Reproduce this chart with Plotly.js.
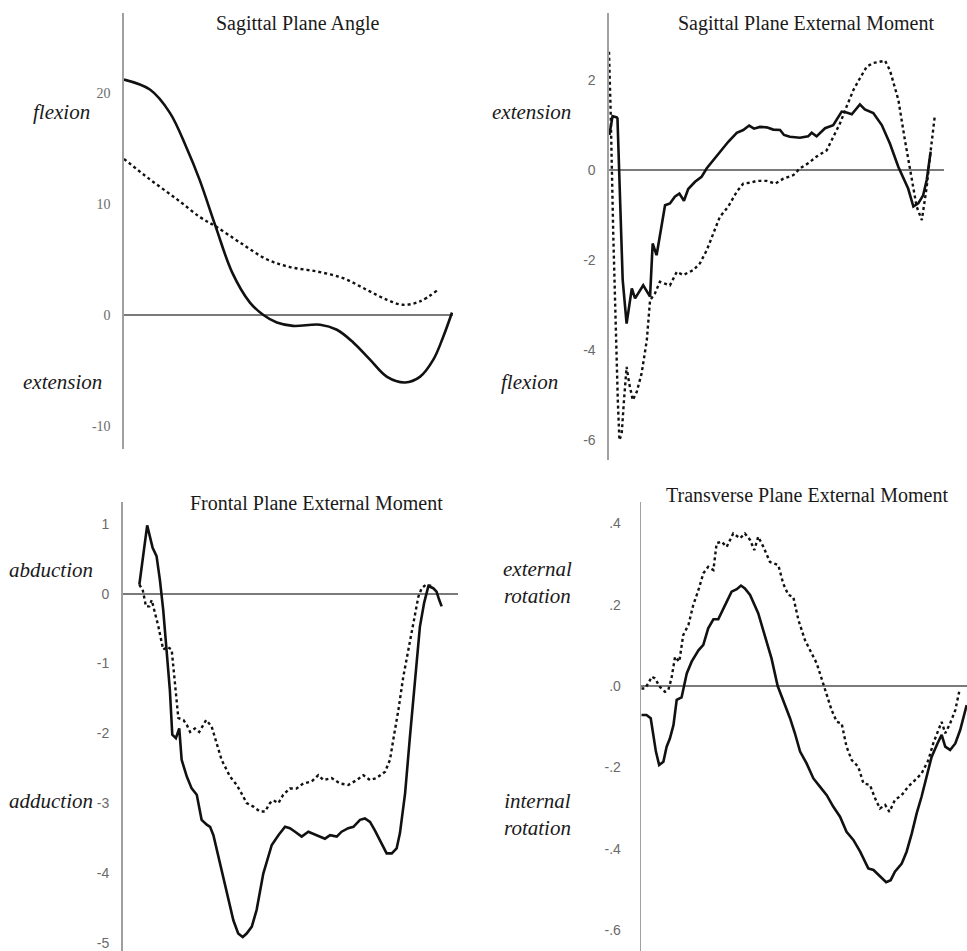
<!DOCTYPE html>
<html>
<head>
<meta charset="utf-8">
<script src="https://cdn.plot.ly/plotly-3.0.1.min.js"></script>
<style>html,body{margin:0;padding:0;background:#fff}#chart{width:967px;height:951px}</style>
</head>
<body>
<div id="chart"></div>
<script>
// ---------- Sagittal Plane Angle ----------
const angleSolidT = [0, 7.9, 14, 19, 23, 28, 33, 38.4, 42.4, 46.6, 51.5, 59.8, 64.9, 69.9, 75, 80.2, 85.7, 90.2, 94.3, 97.3, 100];
const angleSolidV = [21.2, 20.3, 18.2, 15.1, 12.2, 7.9, 3.8, 1.1, 0, -0.7, -1.0, -0.9, -1.35, -2.5, -4.05, -5.6, -6.1, -5.6, -4.05, -2.0, 0.2];
const angleDotT = [0, 7.9, 16.2, 23.2, 28.3, 35.4, 43.5, 50.6, 58.8, 66.8, 74, 80.2, 85, 90.2, 95.7];
const angleDotV = [14.05, 12.2, 10.4, 8.8, 7.9, 6.5, 5.0, 4.3, 3.9, 3.3, 2.25, 1.35, 0.9, 1.2, 2.25];

// ---------- Sagittal Plane External Moment ----------
const sagMomSolidT = [0.1, 1.1, 2.4, 2.6, 4.2, 5.4, 7.0, 8.0, 10.5, 12.6, 13.4, 14.6, 17.2, 18.7, 20.2, 21.6, 23, 24.3, 26.4, 28.4, 30, 32, 34.6, 36.6, 39.2, 41.2, 43, 44.5, 46.3, 48.4, 50.4, 52.5, 53.7, 55.5, 58.6, 61.1, 62.2, 63.7, 66.3, 68.8, 71.4, 72.9, 74.5, 77, 78.5, 81.1, 83.7, 86.2, 88.8, 90.8, 91.8, 93.4, 94.9, 96.4, 97.5, 98.7];
const sagMomSolidV = [0.78, 1.2, 1.17, 1.15, -2.44, -3.41, -2.63, -2.85, -2.56, -2.81, -1.63, -1.89, -0.78, -0.74, -0.59, -0.52, -0.68, -0.42, -0.26, -0.15, 0.04, 0.22, 0.44, 0.63, 0.83, 0.89, 0.99, 0.92, 0.96, 0.95, 0.90, 0.89, 0.78, 0.74, 0.72, 0.75, 0.83, 0.75, 0.93, 1.0, 1.3, 1.28, 1.24, 1.46, 1.35, 1.27, 1.0, 0.59, 0.07, -0.26, -0.41, -0.81, -0.74, -0.56, -0.22, 0.41];
const sagMomDotT = [0, 0.5, 1.3, 2.1, 2.7, 3.2, 3.9, 4.6, 5.4, 6.2, 7.3, 8.5, 10, 11.6, 12.6, 14.1, 15.6, 18.7, 20.8, 22.8, 25.9, 27.9, 30, 32, 34, 36.6, 39.2, 41.2, 43.3, 45.3, 48.4, 51, 53.5, 56.6, 58.6, 61.1, 63.7, 66.8, 68.8, 70.9, 72.9, 75, 77, 79.1, 81.1, 83.1, 84.7, 86.2, 88.8, 90.8, 92.9, 94.4, 96, 97.5, 98.5, 100];
const sagMomDotV = [2.63, 1.33, -1.41, -3.63, -5.11, -6.0, -5.85, -5.11, -4.37, -4.74, -5.11, -4.93, -4.52, -3.78, -2.89, -2.74, -2.48, -2.56, -2.26, -2.33, -2.22, -2.07, -1.78, -1.41, -1.04, -0.81, -0.48, -0.30, -0.28, -0.24, -0.24, -0.30, -0.19, -0.11, 0.04, 0.15, 0.30, 0.44, 0.74, 1.04, 1.41, 1.78, 2.04, 2.30, 2.38, 2.41, 2.43, 2.22, 1.56, 0.67, -0.22, -0.81, -1.11, -0.37, 0.30, 1.22];

// ---------- Frontal Plane External Moment ----------
const frontSolidT = [0, 1.3, 2.6, 3.5, 4.4, 5.7, 6.8, 7.9, 9.0, 10.1, 10.9, 12.1, 13.2, 14.0, 15.7, 17.3, 19.0, 20.6, 22.3, 23.4, 24.5, 26.7, 28.9, 31.1, 32.7, 34.2, 35.5, 37.2, 38.8, 41.0, 43.8, 46.0, 48.2, 49.8, 51.5, 53.7, 55.9, 58.7, 61.4, 63.1, 65.3, 66.9, 69.1, 70.8, 73.0, 74.6, 76.3, 77.9, 80.2, 81.8, 83.5, 85.1, 86.2, 87.9, 89.5, 91.2, 92.8, 94.2, 95.6, 97.2, 98.3, 99.2, 100];
const frontSolidV = [0.13, 0.54, 0.98, 0.82, 0.66, 0.54, 0.20, -0.23, -0.76, -1.38, -2.02, -2.07, -1.93, -2.38, -2.62, -2.79, -2.88, -3.24, -3.31, -3.34, -3.46, -3.86, -4.29, -4.68, -4.87, -4.92, -4.87, -4.77, -4.53, -4.01, -3.60, -3.46, -3.34, -3.36, -3.41, -3.48, -3.41, -3.46, -3.51, -3.46, -3.48, -3.41, -3.36, -3.34, -3.24, -3.22, -3.27, -3.39, -3.58, -3.72, -3.72, -3.65, -3.43, -2.86, -2.05, -1.19, -0.47, -0.13, 0.11, 0.08, 0.03, -0.09, -0.18];
const frontDotT = [0, 1.1, 2.2, 3.3, 4.1, 4.9, 6.3, 7.9, 9.3, 10.7, 11.8, 12.9, 14.6, 15.7, 16.8, 18.4, 19.8, 22.1, 23.9, 25.6, 27.2, 30.0, 32.2, 33.8, 35.5, 37.7, 39.9, 41.6, 43.2, 44.3, 46.0, 47.6, 49.8, 52.0, 54.2, 57.0, 59.2, 60.9, 63.6, 66.4, 69.1, 71.9, 74.1, 76.3, 78.5, 81.3, 82.9, 84.0, 85.7, 87.3, 89.0, 90.6, 92.3, 93.4, 94.8, 96.7];
const frontDotV = [0.13, 0.06, -0.18, -0.18, -0.09, -0.23, -0.47, -0.80, -0.76, -0.80, -1.33, -1.78, -1.81, -1.88, -1.98, -1.93, -1.98, -1.81, -1.90, -2.14, -2.38, -2.62, -2.74, -2.86, -3.00, -3.05, -3.12, -3.12, -3.00, -2.96, -3.00, -2.88, -2.79, -2.79, -2.72, -2.69, -2.60, -2.67, -2.64, -2.72, -2.74, -2.67, -2.60, -2.67, -2.64, -2.55, -2.38, -2.09, -1.66, -1.19, -0.80, -0.42, -0.04, 0.08, 0.13, 0.11];

// ---------- Transverse Plane External Moment ----------
const transSolidT = [0, 1.6, 2.9, 3.7, 4.5, 5.5, 6.8, 7.8, 8.8, 9.9, 10.9, 12.4, 14.0, 15.5, 17.6, 19.1, 20.6, 22.2, 23.7, 25.8, 27.8, 29.4, 30.7, 31.9, 33.5, 36.0, 38.1, 40.1, 42.0, 43.7, 45.8, 47.3, 48.9, 50.9, 53.0, 55.0, 57.1, 59.1, 61.2, 63.2, 65.3, 67.4, 69.9, 71.5, 73.5, 75.4, 76.8, 78.1, 80.2, 81.7, 83.3, 84.8, 86.3, 87.9, 89.4, 91.2, 92.5, 93.6, 95.1, 96.7, 98.2, 100.2];
const transSolidV = [-0.071, -0.071, -0.079, -0.116, -0.161, -0.194, -0.186, -0.149, -0.129, -0.096, -0.034, -0.028, 0.031, 0.060, 0.088, 0.101, 0.142, 0.164, 0.164, 0.199, 0.232, 0.238, 0.247, 0.240, 0.224, 0.179, 0.121, 0.068, 0.0, -0.034, -0.079, -0.116, -0.161, -0.190, -0.227, -0.247, -0.268, -0.296, -0.321, -0.358, -0.378, -0.407, -0.448, -0.452, -0.468, -0.482, -0.477, -0.456, -0.436, -0.407, -0.362, -0.313, -0.272, -0.223, -0.174, -0.141, -0.120, -0.149, -0.157, -0.141, -0.108, -0.047];
const transDotT = [0, 1.1, 2.2, 3.2, 4.2, 5.7, 7.3, 8.3, 9.3, 10.4, 11.7, 12.9, 14.5, 16.0, 17.6, 19.1, 20.6, 22.2, 23.2, 24.7, 26.3, 28.3, 30.4, 31.9, 33.5, 34.8, 36.0, 37.6, 39.6, 42.2, 43.7, 45.3, 46.8, 48.4, 50.4, 52.5, 54.0, 55.5, 57.1, 58.6, 60.2, 61.7, 63.2, 64.8, 66.8, 68.4, 70.4, 72.0, 73.5, 75.1, 76.4, 78.1, 80.2, 82.2, 84.3, 86.3, 88.4, 89.9, 91.5, 92.5, 93.6, 95.1, 96.7, 98.0];
const transDotV = [-0.006, -0.006, 0.007, 0.023, 0.019, -0.002, -0.014, -0.010, 0.019, 0.072, 0.060, 0.125, 0.150, 0.199, 0.236, 0.277, 0.293, 0.285, 0.351, 0.355, 0.342, 0.375, 0.363, 0.375, 0.359, 0.334, 0.367, 0.342, 0.305, 0.297, 0.252, 0.224, 0.219, 0.162, 0.113, 0.080, 0.056, 0.019, -0.022, -0.059, -0.088, -0.092, -0.149, -0.182, -0.198, -0.239, -0.243, -0.276, -0.301, -0.292, -0.309, -0.280, -0.268, -0.247, -0.231, -0.215, -0.182, -0.141, -0.108, -0.088, -0.116, -0.092, -0.059, -0.010];

// Tick values and labels
const angleTickVals = [20, 10, 0, -10];
const angleTickText = ['20', '10', '0', '-10'];
const sagMomTickVals = [2, 0, -2, -4, -6];
const sagMomTickText = ['2', '0', '-2', '-4', '-6'];
const frontTickVals = [1, 0, -1, -2, -3, -4, -5];
const frontTickText = ['1', '0', '-1', '-2', '-3', '-4', '-5'];
const transTickVals = [0.4, 0.2, 0, -0.2, -0.4, -0.6];
const transTickText = ['.4', '.2', '.0', '-.2', '-.4', '-.6'];

// Titles and side labels
const panelTitles = ['Sagittal Plane Angle', 'Sagittal Plane External Moment', 'Frontal Plane External Moment', 'Transverse Plane External Moment'];
const sideLabels = [['flexion', 'extension'], ['extension', 'flexion'], ['abduction', 'adduction'], ['external<br>rotation', 'internal<br>rotation']];

const W = 967, H = 951;
const serif = 'Liberation Serif, Times New Roman, serif';
const sans = 'Liberation Sans, Arial, sans-serif';

function solid(x, y, xa, ya, spline) {
  return {x: x, y: y, xaxis: xa, yaxis: ya, type: 'scatter', mode: 'lines',
    line: {color: '#111', width: 2.6, shape: spline ? 'spline' : 'linear'}, hoverinfo: 'skip', showlegend: false};
}
function dotted(x, y, xa, ya, spline) {
  return {x: x, y: y, xaxis: xa, yaxis: ya, type: 'scatter', mode: 'lines',
    line: {color: '#111', width: 2.4, dash: 'dot', shape: spline ? 'spline' : 'linear'}, hoverinfo: 'skip', showlegend: false};
}

const data = [
  solid(angleSolidT, angleSolidV, 'x', 'y', true),
  dotted(angleDotT, angleDotV, 'x', 'y', true),
  solid(sagMomSolidT, sagMomSolidV, 'x2', 'y2'),
  dotted(sagMomDotT, sagMomDotV, 'x2', 'y2'),
  solid(frontSolidT, frontSolidV, 'x3', 'y3'),
  dotted(frontDotT, frontDotV, 'x3', 'y3'),
  solid(transSolidT, transSolidV, 'x4', 'y4'),
  dotted(transDotT, transDotV, 'x4', 'y4')
];

function xax(l, r, range) {
  return {domain: [l / W, r / W], range: range, showgrid: false, zeroline: false, showline: false,
    showticklabels: false, ticks: '', fixedrange: true};
}
function yax(top, bottom, range, anchor, tickvals, ticktext, font, standoff) {
  return {domain: [1 - bottom / H, 1 - top / H], range: range, anchor: anchor, showgrid: false,
    zeroline: true, zerolinecolor: '#7a7a7a', zerolinewidth: 1.6,
    showline: true, linecolor: '#a0a0a0', linewidth: 1.6, ticks: '',
    tickmode: 'array', tickvals: tickvals, ticktext: ticktext,
    tickfont: {family: font, size: 14, color: '#6a6a6a'},
    ticklabelstandoff: standoff, fixedrange: true};
}

const layout = {
  width: W, height: H, margin: {l: 0, r: 0, t: 0, b: 0}, paper_bgcolor: '#fff', plot_bgcolor: 'rgba(0,0,0,0)',
  showlegend: false,
  xaxis: xax(124, 453, [0, 100.3]),
  yaxis: yax(13, 449, [-12.1, 27.2], 'x', angleTickVals, angleTickText, serif, 9),
  xaxis2: xax(609, 944, [0, 102.8]),
  yaxis2: yax(13, 460, [-6.44, 3.49], 'x2', sagMomTickVals, sagMomTickText, sans, 9),
  xaxis3: xax(122.7, 457.7, [-5.5, 105.3]),
  yaxis3: yax(501.7, 951, [-5.12, 1.32], 'x3', frontTickVals, frontTickText, sans, 9),
  xaxis4: xax(641.3, 967, [0, 100.3]),
  yaxis4: yax(501.7, 951, [-0.651, 0.453], 'x4', transTickVals, transTickText, sans, 16),
  annotations: []
};

const titlePos = [[297, 24], [806, 24], [316, 503], [807, 495]];
panelTitles.forEach((t, i) => {
  layout.annotations.push({text: t, xref: 'paper', yref: 'paper', x: titlePos[i][0] / W, y: 1 - titlePos[i][1] / H,
    xanchor: 'center', yanchor: 'middle', showarrow: false, font: {family: serif, size: 20, color: '#1a1a1a'}});
});
const labelPos = [[[61, 112], [62, 382]], [[531, 112], [529, 382]], [[51, 570], [51, 801]], [[537, 582], [537, 814]]];
sideLabels.forEach((pair, i) => {
  pair.forEach((t, j) => {
    layout.annotations.push({text: '<i>' + t + '</i>', xref: 'paper', yref: 'paper',
      x: labelPos[i][j][0] / W, y: 1 - labelPos[i][j][1] / H, xanchor: 'center', yanchor: 'middle',
      showarrow: false, align: 'center', font: {family: serif, size: 21, color: '#1a1a1a'}});
  });
});

Plotly.newPlot('chart', data, layout, {displayModeBar: false, staticPlot: true});
</script>
</body>
</html>
